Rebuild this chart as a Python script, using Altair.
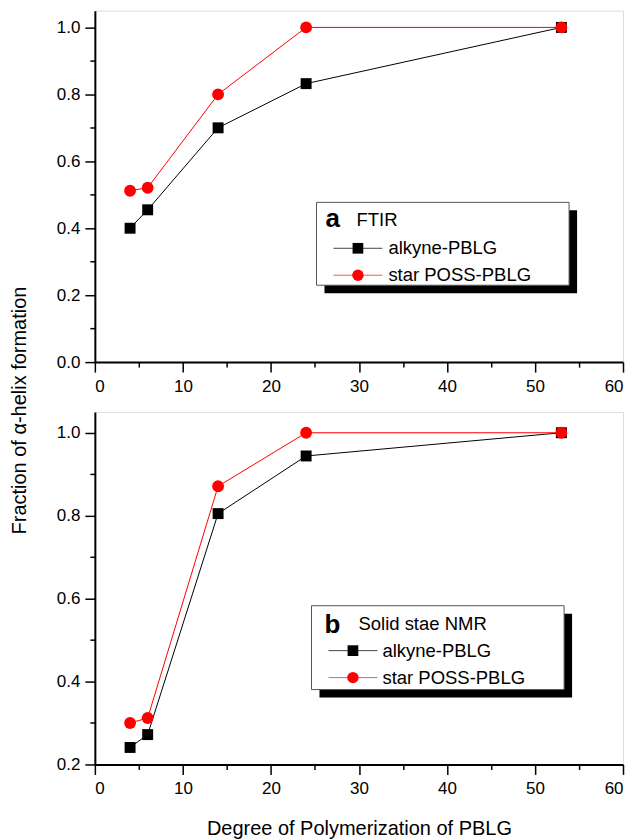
import altair as alt
import pandas as pd

# ---------------- data ----------------
dp = [4, 6, 14, 24, 53]
series = ["alkyne-PBLG", "star POSS-PBLG"]
a_alkyne = [0.400, 0.455, 0.700, 0.832, 1.000]
a_star = [0.512, 0.521, 0.800, 1.000, 1.000]
b_alkyne = [0.241, 0.272, 0.805, 0.944, 1.000]
b_star = [0.300, 0.312, 0.871, 1.000, 1.000]

x_major = [0, 10, 20, 30, 40, 50, 60]
x_minor = [5, 15, 25, 35, 45, 55]
a_y_major = [0.0, 0.2, 0.4, 0.6, 0.8, 1.0]
a_y_minor = [0.1, 0.3, 0.5, 0.7, 0.9]
b_y_major = [0.2, 0.4, 0.6, 0.8, 1.0]
b_y_minor = [0.3, 0.5, 0.7, 0.9]

FONT = "Liberation Sans"
W = 529
H1 = 352
H2 = 353


def long_df(alk, star):
    rows = []
    for x, v in zip(dp, alk):
        rows.append({"dp": x, "frac": v, "series": series[0]})
    for x, v in zip(dp, star):
        rows.append({"dp": x, "frac": v, "series": series[1]})
    return pd.DataFrame(rows)


one = pd.DataFrame({"k": [0]})


def legend_layers(letter, title, L):
    layers = []
    layers.append(alt.Chart(one).mark_rect(color="black").encode(
        x=alt.value(L["bx"] + 8), x2=alt.value(L["bx2"] + 8),
        y=alt.value(L["by"] + 8), y2=alt.value(L["by2"] + 8)))
    layers.append(alt.Chart(one).mark_rect(fill="white", stroke="#555", strokeWidth=1).encode(
        x=alt.value(L["bx"]), x2=alt.value(L["bx2"]),
        y=alt.value(L["by"]), y2=alt.value(L["by2"])))
    layers.append(alt.Chart(one).mark_text(font=FONT, fontSize=26, fontWeight="bold",
                                           align="left", baseline="alphabetic", color="black").encode(
        x=alt.value(L["lx"]), y=alt.value(L["ly"]), text=alt.value(letter)))
    layers.append(alt.Chart(one).mark_text(font=FONT, fontSize=18.5,
                                           align="left", baseline="middle", color="black").encode(
        x=alt.value(L["tx"]), y=alt.value(L["ty"]), text=alt.value(title)))
    specs = [
        (series[0], "#444", "black", "square", 115, L["r1"]),
        (series[1], "#ff5555", "red", "circle", 130, L["r2"]),
    ]
    for name, lc, mc, shp, sz, ry in specs:
        layers.append(alt.Chart(one).mark_rule(color=lc, strokeWidth=1).encode(
            x=alt.value(L["l1"]), x2=alt.value(L["l2"]), y=alt.value(ry)))
        layers.append(alt.Chart(one).mark_point(shape=shp, filled=True, color=mc, size=sz, opacity=1).encode(
            x=alt.value((L["l1"] + L["l2"]) / 2), y=alt.value(ry)))
        layers.append(alt.Chart(one).mark_text(font=FONT, fontSize=18.5,
                                               align="left", baseline="middle", color="black").encode(
            x=alt.value(L["sx"]), y=alt.value(ry), text=alt.value(name)))
    return layers


def panel(df, ydom, ymaj, ymin, H, letter, title, L, ytitle, xtitle):
    xs = alt.Scale(domain=[0, 60], nice=False, zero=False)
    ys = alt.Scale(domain=ydom, nice=False, zero=False)
    ax_kw = dict(labelFont=FONT, labelFontSize=17, labelColor="black",
                 titleFont=FONT, titleFontSize=20, titleColor="black", titleFontWeight="normal",
                 domainColor="black", domainWidth=2, tickColor="black", tickWidth=1.5,
                 grid=False, tickSize=10)
    if xtitle:
        xaxis = alt.Axis(values=x_major, orient="bottom", format="d", labelPadding=6,
                         title=xtitle, titlePadding=22, **ax_kw)
    else:
        xaxis = alt.Axis(values=x_major, orient="bottom", format="d", labelPadding=6,
                         title=None, **ax_kw)
    if ytitle:
        yaxis = alt.Axis(values=ymaj, orient="left", format=".1f", labelPadding=5,
                         title=ytitle, titleX=-75, titleY=400, titleAngle=270,
                         titleBaseline="middle", titleAlign="center", **ax_kw)
    else:
        yaxis = alt.Axis(values=ymaj, orient="left", format=".1f", labelPadding=5,
                         title=None, **ax_kw)

    minor_kw = dict(labels=False, domain=False, title=None, grid=False,
                    tickColor="black", tickWidth=1.5, tickSize=5)
    base_minor = alt.Chart(df).mark_point(opacity=0).encode(
        x=alt.X("dp:Q", scale=xs, axis=alt.Axis(values=x_minor, orient="bottom", **minor_kw)),
        y=alt.Y("frac:Q", scale=ys, axis=alt.Axis(values=ymin, orient="left", **minor_kw)),
    )

    alk = df[df.series == series[0]]
    st = df[df.series == series[1]]
    line_a = alt.Chart(alk).mark_line(color="black", strokeWidth=1).encode(
        x=alt.X("dp:Q", scale=xs, axis=xaxis),
        y=alt.Y("frac:Q", scale=ys, axis=yaxis),
    )
    pts_a = alt.Chart(alk).mark_point(shape="square", filled=True, color="black",
                                       size=120, opacity=1).encode(
        x=alt.X("dp:Q", scale=xs, axis=None), y=alt.Y("frac:Q", scale=ys, axis=None))
    line_s = alt.Chart(st).mark_line(color="red", strokeWidth=1).encode(
        x=alt.X("dp:Q", scale=xs, axis=None), y=alt.Y("frac:Q", scale=ys, axis=None))
    pts_s = alt.Chart(st).mark_point(shape="circle", filled=True, color="red",
                                      size=140, opacity=1).encode(
        x=alt.X("dp:Q", scale=xs, axis=None), y=alt.Y("frac:Q", scale=ys, axis=None))

    layers = [line_a, base_minor, pts_a, line_s, pts_s] + legend_layers(letter, title, L)
    return alt.layer(*layers).resolve_axis(x="independent", y="independent").properties(
        width=W, height=H)


La = dict(bx=222, bx2=475, by=192, by2=275, lx=231, ly=217, tx=262, ty=210,
          l1=239, l2=288, sx=294, r1=238, r2=265)
Lb = dict(bx=217, bx2=470, by=194, by2=278, lx=230, ly=221, tx=264, ty=212,
          l1=234, l2=283, sx=288, r1=239, r2=266)

top = panel(long_df(a_alkyne, a_star), [0, 1.05], a_y_major, a_y_minor, H1,
            "a", "FTIR", La, "Fraction of \u03b1-helix formation", None)
bot = panel(long_df(b_alkyne, b_star), [0.2, 1.05], b_y_major, b_y_minor, H2,
            "b", "Solid stae NMR", Lb, None, "Degree of Polymerization of PBLG")

chart = alt.vconcat(top, bot, spacing=50, bounds="flush").properties(
    padding={"left": 1, "top": 1, "right": 0, "bottom": 5}
).configure_view(stroke="black", strokeWidth=2).configure(background="white")

chart.save("out.html", embed_options={"renderer": "svg", "actions": False})
